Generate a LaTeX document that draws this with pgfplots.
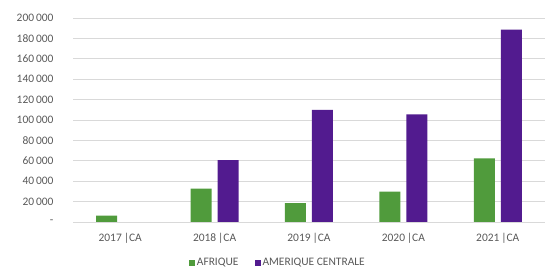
\documentclass[border=0pt]{standalone}
\usepackage{pgfplots}
\pgfplotsset{compat=1.18}
\usepackage{fontspec}
\setmainfont{Carlito}
\definecolor{cgreen}{HTML}{509B3C}
\definecolor{cpurple}{HTML}{521B8F}
\definecolor{ctext}{HTML}{595959}
\definecolor{cgrid}{HTML}{D9D9D9}
\begin{document}
\begin{tikzpicture}
\useasboundingbox (0,0) rectangle (548bp,269bp);
\begin{axis}[
  at={(73bp,47bp)}, anchor=south west,
  scale only axis, width=472bp, height=204bp,
  xmin=-0.5, xmax=4.5, ymin=0, ymax=200000,
  ybar=6bp, bar width=21bp,
  axis line style={draw=none},
  major tick length=0pt,
  ymajorgrids, major grid style={cgrid, line width=0.8pt},
  ytick={0,20000,40000,60000,80000,100000,120000,140000,160000,180000,200000},
  yticklabels={-,20\,000,40\,000,60\,000,80\,000,100\,000,120\,000,140\,000,160\,000,180\,000,200\,000},
  xtick={0,1,2,3,4},
  xticklabels={2017\,|CA,2018\,|CA,2019\,|CA,2020\,|CA,2021\,|CA},
  tick label style={font=\fontsize{11.5}{13}\selectfont, text=ctext},
  yticklabel style={xshift=-16bp},
  xticklabel style={yshift=-8bp},
  scaled y ticks=false,
  legend style={at={(0.434,-0.2)}, anchor=center, draw=none, fill=none,
    inner sep=0pt, nodes={inner ysep=0.5pt, inner xsep=2pt},
    font=\fontsize{11.5}{12}\selectfont, text=ctext, legend columns=2,
    /tikz/every even column/.append style={column sep=14bp},
    /tikz/every odd column/.append style={column sep=0bp}},
  legend image code/.code={\fill[#1] (0bp,-3bp) rectangle (6bp,3bp);},
]
\addplot[fill=cgreen, draw=none] coordinates {(0,6300) (1,32800) (2,18400) (3,29900) (4,62300)};
\addplot[fill=cpurple, draw=none] coordinates {(1,60700) (2,110000) (3,105600) (4,188500)};
\legend{AFRIQUE, AMERIQUE CENTRALE}
\end{axis}
\end{tikzpicture}
\end{document}
